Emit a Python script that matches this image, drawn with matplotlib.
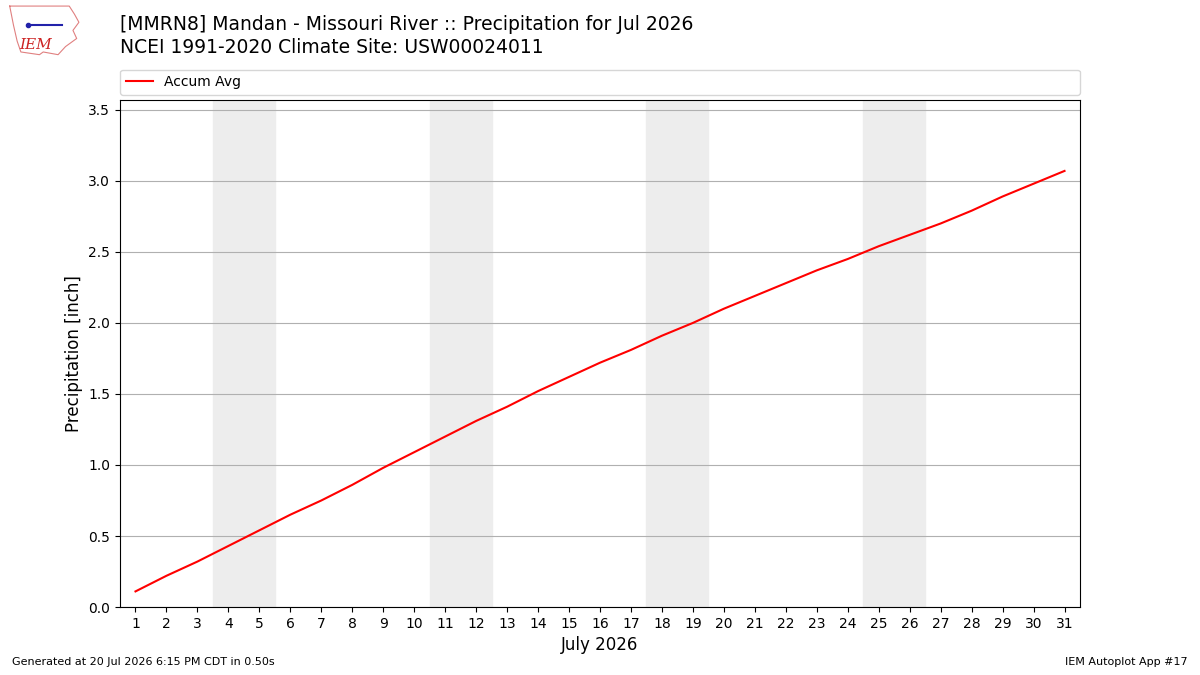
import numpy as np
import matplotlib.pyplot as plt

days = np.arange(1, 32)
accum_avg = [0.11, 0.22, 0.32, 0.43, 0.54, 0.65, 0.75, 0.86, 0.98, 1.09,
             1.20, 1.31, 1.41, 1.52, 1.62, 1.72, 1.81, 1.91, 2.00, 2.10,
             2.19, 2.28, 2.37, 2.45, 2.54, 2.62, 2.70, 2.79, 2.89, 2.98,
             3.07]
weekends = [(3.5, 5.5), (10.5, 12.5), (17.5, 19.5), (24.5, 26.5)]

fig = plt.figure(figsize=(12, 6.75), dpi=100)
ax = fig.add_axes([0.1, 0.1007, 0.8, 0.7513])

for x0, x1 in weekends:
    ax.axvspan(x0, x1, color='#ededed', zorder=0)

ax.plot(days, accum_avg, color='r', lw=1.5, label='Accum Avg', zorder=3)
ax.grid(True, axis='y', color='#b0b0b0', lw=0.8)
ax.set_axisbelow(True)
ax.set_xlim(0.5, 31.5)
ax.set_ylim(0, 3.57)
ax.set_xticks(days)
ax.set_yticks(np.arange(0, 3.51, 0.5))
ax.tick_params(labelsize=10)
ax.set_xlabel('July 2026', fontsize=12)
ax.set_ylabel('Precipitation [inch]', fontsize=12)
ax.legend(loc='lower left', bbox_to_anchor=(0, 1.01, 1, 0.05), mode='expand',
          ncol=1, fontsize=10, borderaxespad=0)

fig.text(0.1, 0.963, '[MMRN8] Mandan - Missouri River :: Precipitation for Jul 2026',
         fontsize=13.5, va='center')
fig.text(0.1, 0.929, 'NCEI 1991-2020 Climate Site: USW00024011',
         fontsize=13.5, va='center')
fig.text(0.01, 0.015, 'Generated at 20 Jul 2026 6:15 PM CDT in 0.50s', fontsize=8)
fig.text(0.99, 0.015, 'IEM Autoplot App #17', fontsize=8, ha='right')

# rough logo
lax = fig.add_axes([0.005, 0.915, 0.062, 0.08])
lax.axis('off')
lax.set_xlim(0, 1)
lax.set_ylim(0, 1)
ox = [0.05, 0.85, 0.92, 0.98, 0.9, 0.95, 0.8, 0.7, 0.5, 0.45, 0.2, 0.15, 0.1, 0.05]
oy = [0.95, 0.95, 0.8, 0.65, 0.5, 0.35, 0.2, 0.05, 0.1, 0.05, 0.1, 0.3, 0.6, 0.95]
lax.plot(ox, oy, color='#e08080', lw=0.8)
lax.text(0.4, 0.22, 'IEM', color='#cc2222', fontsize=11, family='serif',
         style='italic', ha='center', va='center')
lax.plot([0.3, 0.75], [0.6, 0.6], color='#2222aa', lw=1.5)
lax.plot([0.3], [0.6], 'o', color='#2222aa', ms=3)

fig.savefig('out.png')
